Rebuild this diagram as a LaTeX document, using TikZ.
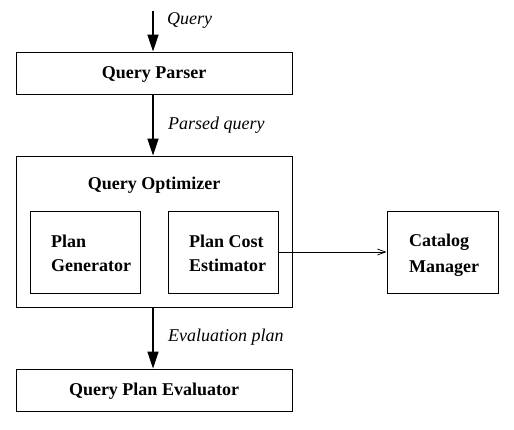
\documentclass[tikz,border=0pt]{standalone}
\usepackage{fontspec}
\setmainfont{Liberation Serif}
\usetikzlibrary{arrows.meta}
\begin{document}
\begin{tikzpicture}[x=1pt,y=-1pt,
  box/.style={draw,line width=0.9pt,inner sep=0pt},
  lbl/.style={font=\fontsize{18}{24}\selectfont\bfseries,inner sep=0pt,align=left},
  note/.style={font=\fontsize{18}{24}\selectfont\itshape,inner sep=0pt,anchor=west},
  bigarrow/.style={line width=1.2pt,-{Triangle[width=11pt,length=17pt]}},
  thinarrow/.style={line width=0.8pt,-{Straight Barb[length=8pt,width=6pt]}}]
\useasboundingbox (0,0) rectangle (514,430);
\node[box,minimum width=276pt,minimum height=42pt] (parser) at (154,73) {};
\node[lbl] (parsert) at (154,74) {Query Parser};
\node[box,minimum width=276pt,minimum height=151pt] (opt) at (154,231.5) {};
\node[lbl] (optt) at (154,185) {Query Optimizer};
\node[box,minimum width=110pt,minimum height=82pt] (gen) at (85,252) {};
\node[lbl,anchor=west] (gent) at (51,253) {Plan\\Generator};
\node[box,minimum width=110pt,minimum height=82pt] (est) at (223,252) {};
\node[lbl,anchor=west] (estt) at (189,253) {Plan Cost\\Estimator};
\node[box,minimum width=111pt,minimum height=82pt] (cat) at (442.5,252) {};
\node[lbl,anchor=west,font=\fontsize{18}{26}\selectfont\bfseries] (catt) at (409,255) {Catalog\\Manager};
\node[box,minimum width=276pt,minimum height=42pt] (eval) at (154,390) {};
\node[lbl] (evalt) at (154,391) {Query Plan Evaluator};
\coordinate (in) at (153,11);
\draw[bigarrow] (in) -- (parser.north -| in);
\draw[bigarrow] (parser.south -| in) -- (opt.north -| in);
\draw[bigarrow] (opt.south -| in) -- (eval.north -| in);
\draw[thinarrow] (est.east) -- (cat.west);
\node[note] (q) at (167,20) {Query};
\node[note] (pq) at (168,125) {Parsed query};
\node[note] (ep) at (168,337) {Evaluation plan};
\end{tikzpicture}
\end{document}
